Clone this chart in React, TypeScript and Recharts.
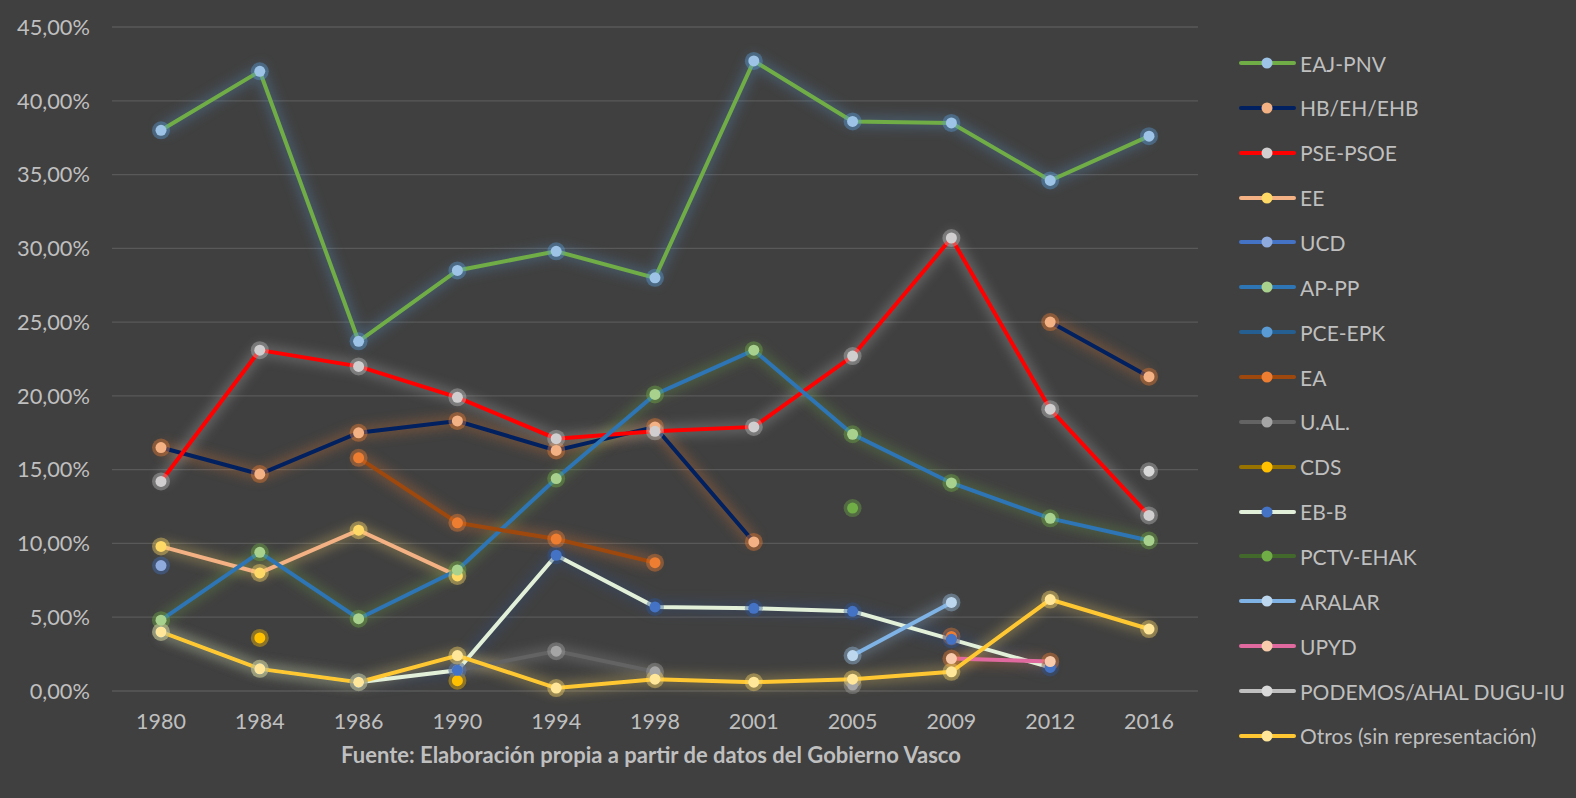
import { LineChart, Line, XAxis, YAxis, CartesianGrid } from "recharts";

const FONT = "Lato, 'Open Sans', sans-serif";
const TEXT = "#bfbfbf";

const YEARS = ["1980", "1984", "1986", "1990", "1994", "1998", "2001", "2005", "2009", "2012", "2016"];
const Y_TICKS = [0, 5, 10, 15, 20, 25, 30, 35, 40, 45];

// vote share (%) per election year, null = did not run / no data
const EAJ_PNV = [38.0, 42.0, 23.7, 28.5, 29.8, 28.0, 42.7, 38.6, 38.5, 34.6, 37.6];
const HB_EH_EHB = [16.5, 14.7, 17.5, 18.3, 16.3, 17.9, 10.1, null, null, 25.0, 21.3];
const PSE_PSOE = [14.2, 23.1, 22.0, 19.9, 17.1, 17.6, 17.9, 22.7, 30.7, 19.1, 11.9];
const EE = [9.8, 8.0, 10.9, 7.8, null, null, null, null, null, null, null];
const UCD = [8.5, null, null, null, null, null, null, null, null, null, null];
const AP_PP = [4.8, 9.4, 4.9, 8.2, 14.4, 20.1, 23.1, 17.4, 14.1, 11.7, 10.2];
const PCE_EPK = [4.0, 1.5, 0.6, null, null, null, null, null, null, null, null];
const EA = [null, null, 15.8, 11.4, 10.3, 8.7, null, null, 3.7, null, null];
const U_AL = [null, null, null, 1.4, 2.7, 1.3, null, 0.4, null, null, null];
const CDS = [null, 3.6, null, 0.7, null, null, null, null, null, null, null];
const EB_B = [null, null, 0.6, 1.4, 9.2, 5.7, 5.6, 5.4, 3.5, 1.6, null];
const PCTV_EHAK = [null, null, null, null, null, null, null, 12.4, null, null, null];
const ARALAR = [null, null, null, null, null, null, null, 2.4, 6.0, null, null];
const UPYD = [null, null, null, null, null, null, null, null, 2.2, 2.0, null];
const PODEMOS = [null, null, null, null, null, null, null, null, null, null, 14.9];
const OTROS = [4.0, 1.5, 0.6, 2.4, 0.2, 0.8, 0.6, 0.8, 1.3, 6.2, 4.2];

const SERIES = [
  { key: "eaj", name: "EAJ-PNV", values: EAJ_PNV, line: "#70ad47", marker: "#9dc3e6", glow: "#5b9bd5" },
  { key: "hb", name: "HB/EH/EHB", values: HB_EH_EHB, line: "#002060", marker: "#f4b183", glow: "#ed7d31" },
  { key: "pse", name: "PSE-PSOE", values: PSE_PSOE, line: "#ff0000", marker: "#d0cece", glow: "#bfbfbf" },
  { key: "ee", name: "EE", values: EE, line: "#f4b183", marker: "#ffd966", glow: "#ffd966" },
  { key: "ucd", name: "UCD", values: UCD, line: "#4472c4", marker: "#8faadc", glow: "#4472c4" },
  { key: "pp", name: "AP-PP", values: AP_PP, line: "#2e75b6", marker: "#a9d18e", glow: "#70ad47" },
  { key: "pce", name: "PCE-EPK", values: PCE_EPK, line: "#255e91", marker: "#5b9bd5", glow: "#5b9bd5" },
  { key: "ea", name: "EA", values: EA, line: "#9e480e", marker: "#ed7d31", glow: "#ed7d31" },
  { key: "ual", name: "U.AL.", values: U_AL, line: "#636363", marker: "#a5a5a5", glow: "#a5a5a5" },
  { key: "cds", name: "CDS", values: CDS, line: "#997300", marker: "#ffc000", glow: "#ffc000" },
  { key: "eb", name: "EB-B", values: EB_B, line: "#e2f0d9", marker: "#4472c4", glow: "#2f5597" },
  { key: "pctv", name: "PCTV-EHAK", values: PCTV_EHAK, line: "#43682b", marker: "#70ad47", glow: "#70ad47" },
  { key: "aralar", name: "ARALAR", values: ARALAR, line: "#7fb2e5", marker: "#bdd7ee", glow: "#9dc3e6" },
  { key: "upyd", name: "UPYD", values: UPYD, line: "#e06aa0", marker: "#f8cbad", glow: "#ed7d31" },
  { key: "podemos", name: "PODEMOS/AHAL DUGU-IU", values: PODEMOS, line: "#bfbfbf", marker: "#d9d9d9", glow: "#bfbfbf" },
  { key: "otros", name: "Otros (sin representación)", values: OTROS, line: "#ffc832", marker: "#ffe699", glow: "#ffd966" },
];

const rows = YEARS.map((year, i) => {
  const row: Record<string, any> = { year };
  SERIES.forEach((s) => (row[s.key] = s.values[i]));
  return row;
});

const fmtPct = (v: number) => v.toFixed(2).replace(".", ",") + "%";

export default function App() {
  return (
    <div
      style={{
        position: "absolute",
        left: 0,
        top: 0,
        width: 1576,
        height: 798,
        background: "#404040",
        fontFamily: FONT,
        overflow: "hidden",
      }}
    >
      <style>{`.glow { filter: blur(6px); }`}</style>
      <LineChart width={1576} height={798} data={rows} margin={{ top: 27, right: 378, bottom: 77, left: 0 }}>
        <CartesianGrid vertical={false} stroke="#595959" strokeWidth={1.3} />
        <XAxis
          dataKey="year"
          height={30}
          axisLine={false}
          tickLine={false}
          interval={0}
          padding={{ left: 49, right: 49 }}
          tickMargin={17}
          tick={{ fill: TEXT, fontSize: 21.5, fontFamily: FONT }}
        />
        <YAxis
          domain={[0, 45]}
          ticks={Y_TICKS}
          width={112}
          axisLine={false}
          tickLine={false}
          tickMargin={16}
          tickFormatter={fmtPct}
          tick={{ fill: TEXT, fontSize: 21.8, fontFamily: FONT }}
        />
        {SERIES.map((s) => (
          <Line
            key={"glow-" + s.key}
            className="glow"
            dataKey={s.key}
            stroke={s.glow}
            strokeWidth={11}
            strokeOpacity={0.3}
            dot={{ r: 9, fill: s.glow, fillOpacity: 0.4, strokeWidth: 0 }}
            activeDot={false}
            isAnimationActive={false}
            legendType="none"
          />
        ))}
        {SERIES.map((s) => (
          <Line
            key={s.key}
            name={s.name}
            dataKey={s.key}
            stroke={s.line}
            strokeWidth={4}
            dot={{ r: 5.5, fill: s.marker, stroke: s.marker, strokeWidth: 0 }}
            activeDot={false}
            isAnimationActive={false}
          />
        ))}
      </LineChart>

      <div style={{ position: "absolute", left: 1239, top: 40.6 }}>
        {SERIES.map((s) => (
          <div key={s.key} style={{ height: 44.87, display: "flex", alignItems: "center" }}>
            <svg width={57} height={14} style={{ flex: "none" }}>
              <line x1={2} y1={7} x2={55} y2={7} stroke={s.line} strokeWidth={4} strokeLinecap="round" />
              <circle cx={28} cy={7} r={5.5} fill={s.marker} />
            </svg>
            <span style={{ marginLeft: 4, color: TEXT, fontSize: 21, whiteSpace: "nowrap" }}>{s.name}</span>
          </div>
        ))}
      </div>

      <div
        style={{
          position: "absolute",
          left: 0,
          width: 1302,
          top: 741,
          textAlign: "center",
          color: TEXT,
          fontSize: 22,
          fontWeight: 700,
        }}
      >
        Fuente: Elaboración propia a partir de datos del Gobierno Vasco
      </div>
    </div>
  );
}
